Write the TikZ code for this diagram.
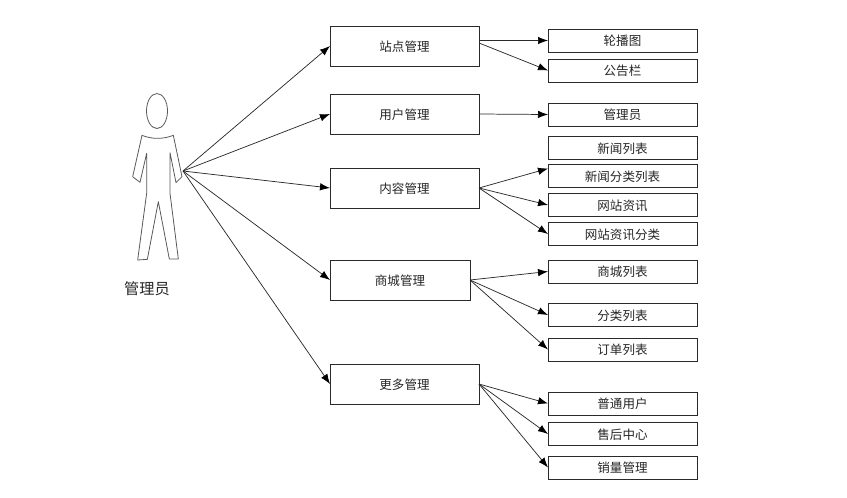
\documentclass[tikz,border=0pt]{standalone}
\usepackage{fontspec}
\setmainfont{Noto Sans CJK SC}
\usetikzlibrary{arrows.meta}
\definecolor{ln}{HTML}{2A2A2A}
\tikzset{
  basebox/.style={draw=ln,line width=0.7pt,fill=white,inner sep=0pt,outer sep=0pt,font=\fontsize{9.4pt}{11pt}\selectfont,text=black!85,text height=9.3pt,text depth=1.1pt},
  leftbox/.style={basebox,minimum width=111.75pt,minimum height=30pt},
  shortbox/.style={basebox,minimum width=105pt,minimum height=30pt},
  rightbox/.style={basebox,minimum width=111.75pt,minimum height=17.3pt},
  conn/.style={draw=ln,line width=0.55pt,-{Latex[length=7.5pt,width=5.6pt,black]}},
  figure/.style={draw=black!65,line width=0.6pt,line join=round}
}
\begin{document}
\begin{tikzpicture}[x=0.75pt,y=-0.75pt]
\useasboundingbox (0,0) rectangle (847,497);
% person
\draw[figure] (157,111) ellipse [x radius=10.5,y radius=17.5];
\begin{scope}[shift={(110,80)},x=0.25pt,y=-0.25pt]
\draw[figure] (96,166) .. controls (125,178) and (160,178) .. (190,166)
  -- (216,290) -- (198,308) -- (180,218) -- (180,340) -- (205,537) -- (178,537)
  -- (145,365) -- (112,538) -- (83,540) -- (110,340) -- (110,220) -- (90,307)
  -- (68,290) -- cycle;
\end{scope}
\node[inner sep=0pt,font=\fontsize{11.4pt}{13pt}\selectfont,text=black!85] (actor) at (147,289) {管理员};
\coordinate (hub) at (183,171);
% left boxes
\node[leftbox] (site) at (404.5,46) {站点管理};
\node[leftbox] (user) at (404.5,114) {用户管理};
\node[leftbox] (content) at (404.5,188) {内容管理};
\node[shortbox] (shop) at (400,280) {商城管理};
\node[leftbox] (more) at (404.5,384) {更多管理};
% right boxes
\node[rightbox] (r1) at (622.5,40.5) {轮播图};
\node[rightbox] (r2) at (622.5,70.5) {公告栏};
\node[rightbox] (r3) at (622.5,114.5) {管理员};
\node[rightbox] (r4) at (622.5,148) {新闻列表};
\node[rightbox] (r5) at (622.5,176) {新闻分类列表};
\node[rightbox] (r6) at (622.5,205) {网站资讯};
\node[rightbox] (r7) at (622.5,234) {网站资讯分类};
\node[rightbox] (r8) at (622.5,271.5) {商城列表};
\node[rightbox] (r9) at (622.5,315) {分类列表};
\node[rightbox] (r10) at (622.5,349.5) {订单列表};
\node[rightbox] (r11) at (622.5,403.5) {普通用户};
\node[rightbox] (r12) at (622.5,434) {售后中心};
\node[rightbox] (r13) at (622.5,467.5) {销量管理};
\coordinate (siteA) at (479,40.5);
\coordinate (siteB) at (479,43);
\coordinate (r5top) at (548,168.5);
% connectors
\foreach \t in {site,user,content,shop,more} \draw[conn] (hub) -- (\t.west);
\draw[conn] (siteA) -- (r1.west);
\draw[conn] (siteB) -- (r2.west);
\draw[conn] (user.east) -- (r3.west);
\draw[conn] (content.east) -- (r5top);
\draw[conn] (content.east) -- (r6.west);
\draw[conn] (content.east) -- (r7.west);
\draw[conn] (shop.east) -- (r8.west);
\draw[conn] (shop.east) -- (r9.west);
\draw[conn] (shop.east) -- (r10.west);
\draw[conn] (more.east) -- (r11.west);
\draw[conn] (more.east) -- (r12.west);
\draw[conn] (more.east) -- (r13.west);
\end{tikzpicture}
\end{document}
